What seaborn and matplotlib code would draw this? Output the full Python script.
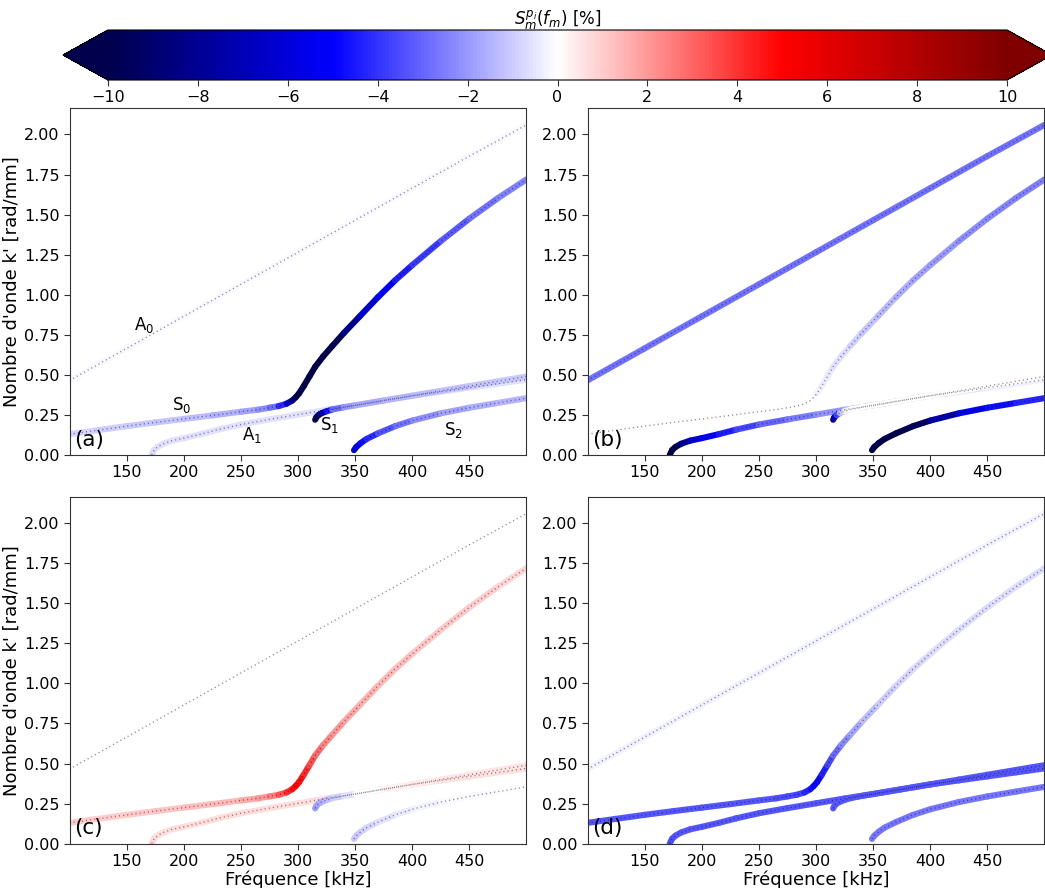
import matplotlib
matplotlib.use("Agg")
import matplotlib.pyplot as plt
import numpy as np
import pandas as pd
import seaborn as sns
from matplotlib.collections import LineCollection
from matplotlib.colors import Normalize
from matplotlib.cm import ScalarMappable

# ---------------- data ----------------
# dispersion curves: frequency [kHz] and wavenumber k' [rad/mm]
A0_f = [100, 150, 200, 250, 300, 350, 400, 450, 500]
A0_k = [0.465, 0.665, 0.865, 1.065, 1.265, 1.465, 1.665, 1.865, 2.06]

S0_f = [100, 125, 150, 175, 200, 225, 250, 265, 275, 283, 290, 295, 298, 301,
        305, 310, 315, 322, 330, 340, 354, 370, 385, 400, 425, 450, 475, 500]
S0_k = [0.13, 0.155, 0.18, 0.203, 0.225, 0.247, 0.27, 0.283, 0.295, 0.305, 0.32,
        0.34, 0.36, 0.385, 0.43, 0.49, 0.55, 0.615, 0.68, 0.76, 0.865, 0.985,
        1.09, 1.185, 1.335, 1.475, 1.603, 1.72]

A1_f = [172, 174, 177, 182, 190, 200, 215, 230, 250, 275, 300, 325, 350, 375,
        400, 425, 450, 475, 500]
A1_k = [0.0, 0.03, 0.05, 0.07, 0.09, 0.105, 0.13, 0.158, 0.19, 0.222, 0.252,
        0.282, 0.31, 0.34, 0.37, 0.395, 0.42, 0.445, 0.47]

S1_f = [315, 316, 318, 321, 325, 330, 340, 350, 375, 400, 425, 450, 475, 500]
S1_k = [0.22, 0.235, 0.25, 0.262, 0.273, 0.284, 0.298, 0.31, 0.34, 0.37, 0.40,
        0.43, 0.46, 0.49]

S2_f = [349, 351, 355, 360, 370, 385, 400, 425, 450, 475, 500]
S2_k = [0.03, 0.05, 0.075, 0.10, 0.135, 0.18, 0.215, 0.26, 0.295, 0.325, 0.355]

MODES = {"A0": (A0_f, A0_k), "S0": (S0_f, S0_k), "A1": (A1_f, A1_k),
         "S1": (S1_f, S1_k), "S2": (S2_f, S2_k)}

# sensitivity S_m^{p_i}(f_m) [%] along each curve, one dict per panel
SENS_A = {
    "A0": [-0.1, -0.1, -0.1, -0.1, -0.1, -0.1, -0.1, -0.1, -0.1],
    "S0": [-0.8, -0.9, -1.0, -1.1, -1.2, -1.4, -1.7, -2.0, -2.4, -3.3, -5.0,
           -7.5, -9.5, -10.5, -11, -11, -11, -11, -10.5, -9.0, -7.0, -5.3,
           -4.7, -4.2, -3.5, -3.0, -2.6, -2.3],
    "A1": [-0.8, -0.7, -0.6, -0.6, -0.6, -0.6, -0.6, -0.6, -0.6, -0.6, -0.6,
           -0.6, -0.6, -0.6, -0.6, -0.6, -0.6, -0.6, -0.6],
    "S1": [-11, -11, -10, -8, -5.5, -3.5, -2.2, -1.8, -1.5, -1.4, -1.3, -1.2,
           -1.1, -1.0],
    "S2": [-6.0, -5.5, -5.0, -4.5, -3.8, -3.0, -2.5, -2.0, -1.7, -1.5, -1.4],
}
SENS_B = {
    "A0": [-2.8, -2.8, -2.8, -2.8, -2.8, -2.8, -2.8, -2.8, -2.8],
    "S0": [0, 0, 0, 0, 0, 0, 0, 0, 0, 0, 0, 0, 0, -0.2, -0.3, -0.4, -0.5, -0.6,
           -0.8, -1.0, -1.2, -1.5, -1.7, -1.9, -2.1, -2.3, -2.4, -2.5],
    "A1": [-12, -12, -11, -9, -7, -5.5, -4.8, -4.0, -3.2, -2.8, -2.5, -1.8,
           -1.4, -1.1, -0.8, -0.6, -0.4, -0.3, -0.2],
    "S1": [-9, -8, -5, -2, -0.5, -0.1, 0, 0, 0, 0, 0, 0, 0, 0],
    "S2": [-12, -12, -12, -11.5, -11, -10, -9, -6, -5.0, -4.5, -4.0],
}
SENS_C = {
    "A0": [0, 0, 0, 0, 0, 0, 0, 0, 0],
    "S0": [1.0, 1.0, 1.0, 1.1, 1.2, 1.3, 1.5, 1.8, 2.2, 2.8, 3.8, 4.5, 5.0, 5.0,
           4.5, 3.8, 3.2, 2.6, 2.2, 1.9, 1.6, 1.4, 1.3, 1.2, 1.1, 1.0, 0.9, 0.8],
    "A1": [0.8, 0.8, 0.7, 0.7, 0.7, 0.7, 0.7, 0.7, 0.7, 0.7, 0.7, 0.7, 0.7, 0.7,
           0.7, 0.7, 0.7, 0.7, 0.7],
    "S1": [-2.0, -2.0, -1.8, -1.6, -1.4, -1.2, -0.8, -0.3, 0.2, 0.4, 0.5, 0.5,
           0.5, 0.5],
    "S2": [-1.2, -1.1, -1.0, -0.9, -0.7, -0.5, -0.3, -0.2, -0.1, -0.1, 0.0],
}
SENS_D = {
    "A0": [-0.3, -0.3, -0.3, -0.3, -0.3, -0.3, -0.3, -0.3, -0.3],
    "S0": [-3.3, -3.3, -3.3, -3.3, -3.3, -3.3, -3.3, -3.4, -3.5, -3.6, -3.9,
           -4.5, -4.8, -5.0, -4.6, -4.0, -3.2, -2.6, -2.0, -1.5, -1.1, -0.9,
           -0.8, -0.7, -0.7, -0.7, -0.7, -0.7],
    "A1": [-3.5, -3.5, -3.4, -3.3, -3.3, -3.3, -3.3, -3.3, -3.3, -3.3, -3.3,
           -3.3, -3.3, -3.3, -3.3, -3.3, -3.3, -3.3, -3.3],
    "S1": [-3.3, -3.3, -3.3, -3.3, -3.3, -3.3, -3.3, -3.3, -3.3, -3.3, -3.3,
           -3.3, -3.3, -3.3],
    "S2": [-2.7, -2.7, -2.7, -2.7, -2.7, -2.7, -2.7, -2.7, -2.7, -2.7, -2.7],
}

PANELS = ["(a)", "(b)", "(c)", "(d)"]
PANEL_SENS = [SENS_A, SENS_B, SENS_C, SENS_D]

MODE_LABELS = ["A$_0$", "S$_0$", "A$_1$", "S$_1$", "S$_2$"]
MODE_LABEL_F = [165, 198, 260, 328, 436]
MODE_LABEL_K = [0.81, 0.31, 0.125, 0.19, 0.156]

X_TICKS = [150, 200, 250, 300, 350, 400, 450]
Y_TICKS = [0.0, 0.25, 0.5, 0.75, 1.0, 1.25, 1.5, 1.75, 2.0]
CBAR_TICKS = [-10, -8, -6, -4, -2, 0, 2, 4, 6, 8, 10]

# ---------------- style ----------------
sns.set_style("ticks")
plt.rcParams["font.family"] = ["DejaVu Sans"]
plt.rcParams["axes.edgecolor"] = "0.2"
plt.rcParams["xtick.color"] = "0.2"
plt.rcParams["ytick.color"] = "0.2"
plt.rcParams["xtick.labelcolor"] = "black"
plt.rcParams["ytick.labelcolor"] = "black"
plt.rcParams["text.color"] = "black"
plt.rcParams["axes.labelcolor"] = "black"

cmap = plt.get_cmap("seismic")
norm = Normalize(vmin=-10, vmax=10)

fig = plt.figure(figsize=(10.45, 8.88), dpi=100)
W, H = 1045.0, 888.0
ax_w, ax_h = 456 / W, 347 / H
positions = [
    [70 / W, 1 - 455 / H, ax_w, ax_h],
    [588 / W, 1 - 455 / H, ax_w, ax_h],
    [70 / W, 1 - 843.7 / H, ax_w, ax_h],
    [588 / W, 1 - 843.7 / H, ax_w, ax_h],
]

for i, (pos, lab, sens) in enumerate(zip(positions, PANELS, PANEL_SENS)):
    ax = fig.add_axes(pos)
    # coloured bands
    for name, (fv, kv) in MODES.items():
        s = np.asarray(sens[name], dtype=float)
        pts = np.column_stack([fv, kv])
        segs = np.stack([pts[:-1], pts[1:]], axis=1)
        seg_val = 0.5 * (s[:-1] + s[1:])
        lc = LineCollection(segs, colors=cmap(norm(seg_val)), linewidths=4.4,
                            capstyle="round", joinstyle="round", zorder=2)
        ax.add_collection(lc)
    # dotted curves (sampled dispersion points)
    for name, (fv, kv) in MODES.items():
        df = pd.DataFrame({"f": fv, "k": kv})
        sns.lineplot(data=df, x="f", y="k", ax=ax, sort=False, color="black",
                     linestyle=(0, (0.8, 2.2)), linewidth=1.0, alpha=0.45,
                     zorder=3, legend=False)
    ax.set_xlim(100.5, 499.5)
    ax.set_ylim(0, 2.165)
    ax.set_xticks(X_TICKS)
    ax.set_yticks(Y_TICKS)
    ax.set_yticklabels([f"{v:.2f}" for v in Y_TICKS])
    ax.tick_params(labelsize=11.5, length=4)
    ax.set_xlabel("Fréquence [kHz]" if i >= 2 else "", fontsize=13,
                  labelpad=1)
    ax.set_ylabel("Nombre d'onde k' [rad/mm]" if i % 2 == 0 else "",
                  fontsize=13, labelpad=2)
    for sp in ax.spines.values():
        sp.set_visible(True)
    ax.text(0.008, 0.027, lab, transform=ax.transAxes, fontsize=15.5,
            va="baseline", ha="left")
    if i == 0:
        for t, xf, yk in zip(MODE_LABELS, MODE_LABEL_F, MODE_LABEL_K):
            ax.text(xf, yk, t, fontsize=12, ha="center", va="center")

# colour bar (body from -10 at x=108 px to 10 at x=1007 px, extensions outside)
cax = fig.add_axes([63 / W, 1 - 80 / H, 989 / W, 50 / H])
sm = ScalarMappable(norm=norm, cmap=cmap)
cb = fig.colorbar(sm, cax=cax, orientation="horizontal", extend="both",
                  ticks=CBAR_TICKS)
cb.ax.tick_params(labelsize=11.5, length=4)
cb.set_label("$S_m^{p_i}(f_m)$ [%]", fontsize=12)
cb.ax.xaxis.set_label_position("top")
cb.outline.set_edgecolor("black")

fig.savefig("out.png", dpi=100)
